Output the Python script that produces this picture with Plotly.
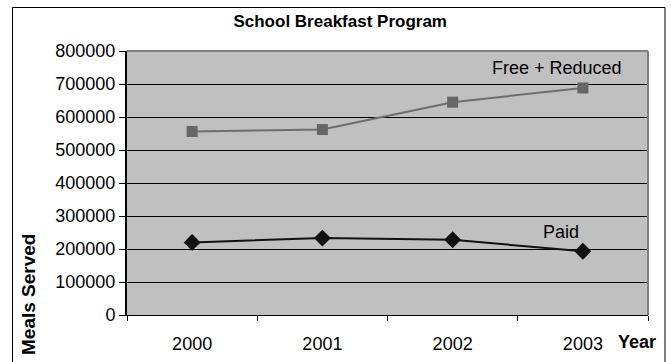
import plotly.graph_objects as go

# Meals served per school year
years = ["2000", "2001", "2002", "2003"]
free_reduced = [556000, 562000, 645000, 688000]
paid = [220000, 233000, 228000, 193000]
y_ticks = [0, 100000, 200000, 300000, 400000, 500000, 600000, 700000, 800000]

W, H = 671, 362
L, R, T, B = 127, 23, 51, 47
pw, ph = W - L - R, H - T - B


def px_x(x):
    return (x - L) / pw


def px_y(y):
    return (H - B - y) / ph


FONT = "Liberation Sans, Arial, sans-serif"

fig = go.Figure()
fig.add_trace(go.Scatter(
    x=years, y=free_reduced, mode="lines+markers", name="Free + Reduced",
    line=dict(color="#6e6e6e", width=2),
    marker=dict(symbol="square", size=11, color="#666666"),
))
fig.add_trace(go.Scatter(
    x=years, y=paid, mode="lines+markers", name="Paid",
    line=dict(color="#111111", width=2),
    marker=dict(symbol="diamond", size=13, color="#111111"),
))

fig.update_layout(
    template="none",
    width=W, height=H,
    margin=dict(l=L, r=R, t=T, b=B, autoexpand=False),
    paper_bgcolor="white", plot_bgcolor="#c0c0c0",
    showlegend=False,
    font=dict(family=FONT, size=18, color="black"),
    title=dict(text="<b>School Breakfast Program</b>", x=0.507, xanchor="center",
               y=1 - 21 / H, yanchor="middle", font=dict(size=17)),
    xaxis=dict(type="category", range=[-0.5, 3.5], tickson="boundaries",
               ticks="outside", ticklen=5, tickcolor="black",
               showline=True, linecolor="black", linewidth=1,
               showgrid=False, tickfont=dict(size=18), ticklabelstandoff=12,
               automargin=False),
    yaxis=dict(range=[0, 800000], tickvals=y_ticks, tickformat="d",
               ticks="outside", ticklen=6, tickcolor="black",
               showline=True, linecolor="black", linewidth=2,
               showgrid=True, gridcolor="black", gridwidth=1,
               zeroline=False, tickfont=dict(size=18), automargin=False),
    shapes=[
        # grey frame on the top and right of the plot area
        dict(type="line", xref="paper", yref="paper", x0=0, x1=1, y0=1, y1=1,
             line=dict(color="#808080", width=2)),
        dict(type="line", xref="paper", yref="paper", x0=1, x1=1, y0=0, y1=1,
             line=dict(color="#808080", width=2)),
        # outer chart border
        dict(type="rect", xref="paper", yref="paper",
             x0=px_x(12.5), x1=px_x(665), y0=px_y(380), y1=px_y(7.5),
             line=dict(color="black", width=1), layer="below"),
    ],
    annotations=[
        dict(text="Free + Reduced", xref="paper", yref="paper",
             x=px_x(557), y=px_y(68), showarrow=False, font=dict(size=18),
             xanchor="center", yanchor="middle"),
        dict(text="Paid", xref="paper", yref="paper",
             x=px_x(561), y=px_y(232), showarrow=False, font=dict(size=18),
             xanchor="center", yanchor="middle"),
        dict(text="<b>Meals Served</b>", xref="paper", yref="paper",
             x=px_x(28), y=px_y(295), textangle=-90, showarrow=False,
             font=dict(size=19), xanchor="center", yanchor="middle"),
        dict(text="<b>Year</b>", xref="paper", yref="paper",
             x=px_x(637), y=px_y(342), showarrow=False, font=dict(size=18),
             xanchor="center", yanchor="middle"),
    ],
)

fig.write_html("out.html")
